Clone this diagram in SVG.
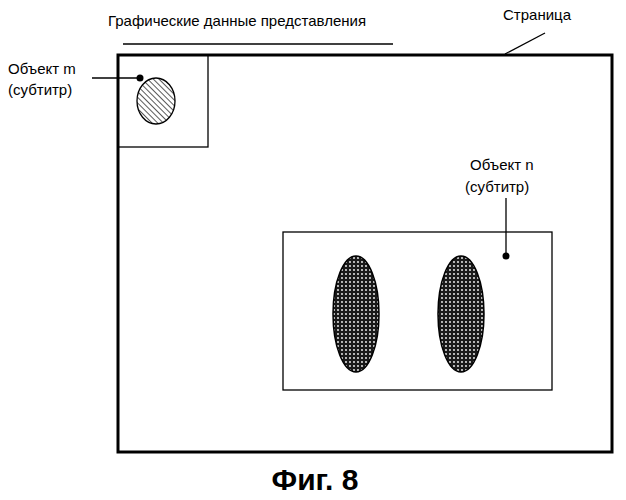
<svg xmlns="http://www.w3.org/2000/svg" width="626" height="500" viewBox="0 0 626 500">
<style>
text{font-family:"Liberation Sans",Arial,sans-serif;font-size:15px;fill:#000}
.thin{fill:none;stroke:#000;stroke-width:1.3}
</style>
<defs>
<pattern id="hatch" width="4" height="4" patternUnits="userSpaceOnUse" patternTransform="rotate(-45)">
<rect width="4" height="4" fill="#fff"/><line x1="0" y1="0" x2="0" y2="4" stroke="#000" stroke-width="1.3"/>
</pattern>
<pattern id="cross" width="4" height="4" patternUnits="userSpaceOnUse">
<rect width="4" height="4" fill="#1a1a1a"/><circle cx="2" cy="2" r="0.9" fill="#fff"/>
</pattern>
</defs>
<rect width="626" height="500" fill="#fff"/>
<g id="page"><rect x="118" y="55" width="494" height="397" fill="none" stroke="#000" stroke-width="3"/>
<text x="503" y="20">Страница</text></g>
<g id="title"><text x="108" y="26">Графические данные представления</text></g>
<g id="objm"><rect x="118" y="55" width="90" height="92" class="thin"/>
<ellipse cx="156" cy="101" rx="19" ry="23" fill="url(#hatch)" stroke="#000" stroke-width="1.3"/>
<text x="8" y="74">Объект m</text><text x="8" y="95">(субтитр)</text></g>
<g id="objn"><rect x="283" y="232" width="269" height="158" class="thin"/>
<ellipse cx="356" cy="314" rx="23" ry="58" fill="url(#cross)" stroke="#000" stroke-width="1.5"/>
<ellipse cx="461" cy="314" rx="23" ry="58" fill="url(#cross)" stroke="#000" stroke-width="1.5"/>
<text x="470" y="170">Объект n</text><text x="465" y="192">(субтитр)</text></g>
<g id="connectors">
<line x1="123" y1="44" x2="393" y2="44" class="thin"/>
<line x1="505" y1="54" x2="545" y2="33" class="thin"/>
<line x1="92" y1="78" x2="140" y2="78" class="thin"/><circle cx="140" cy="78" r="3.5"/>
<line x1="506" y1="198" x2="506" y2="256" class="thin"/><circle cx="506" cy="256" r="3.5"/>
</g>
<text x="315" y="490" text-anchor="middle" style="font-size:30px;font-weight:bold">Фиг. 8</text>
</svg>
